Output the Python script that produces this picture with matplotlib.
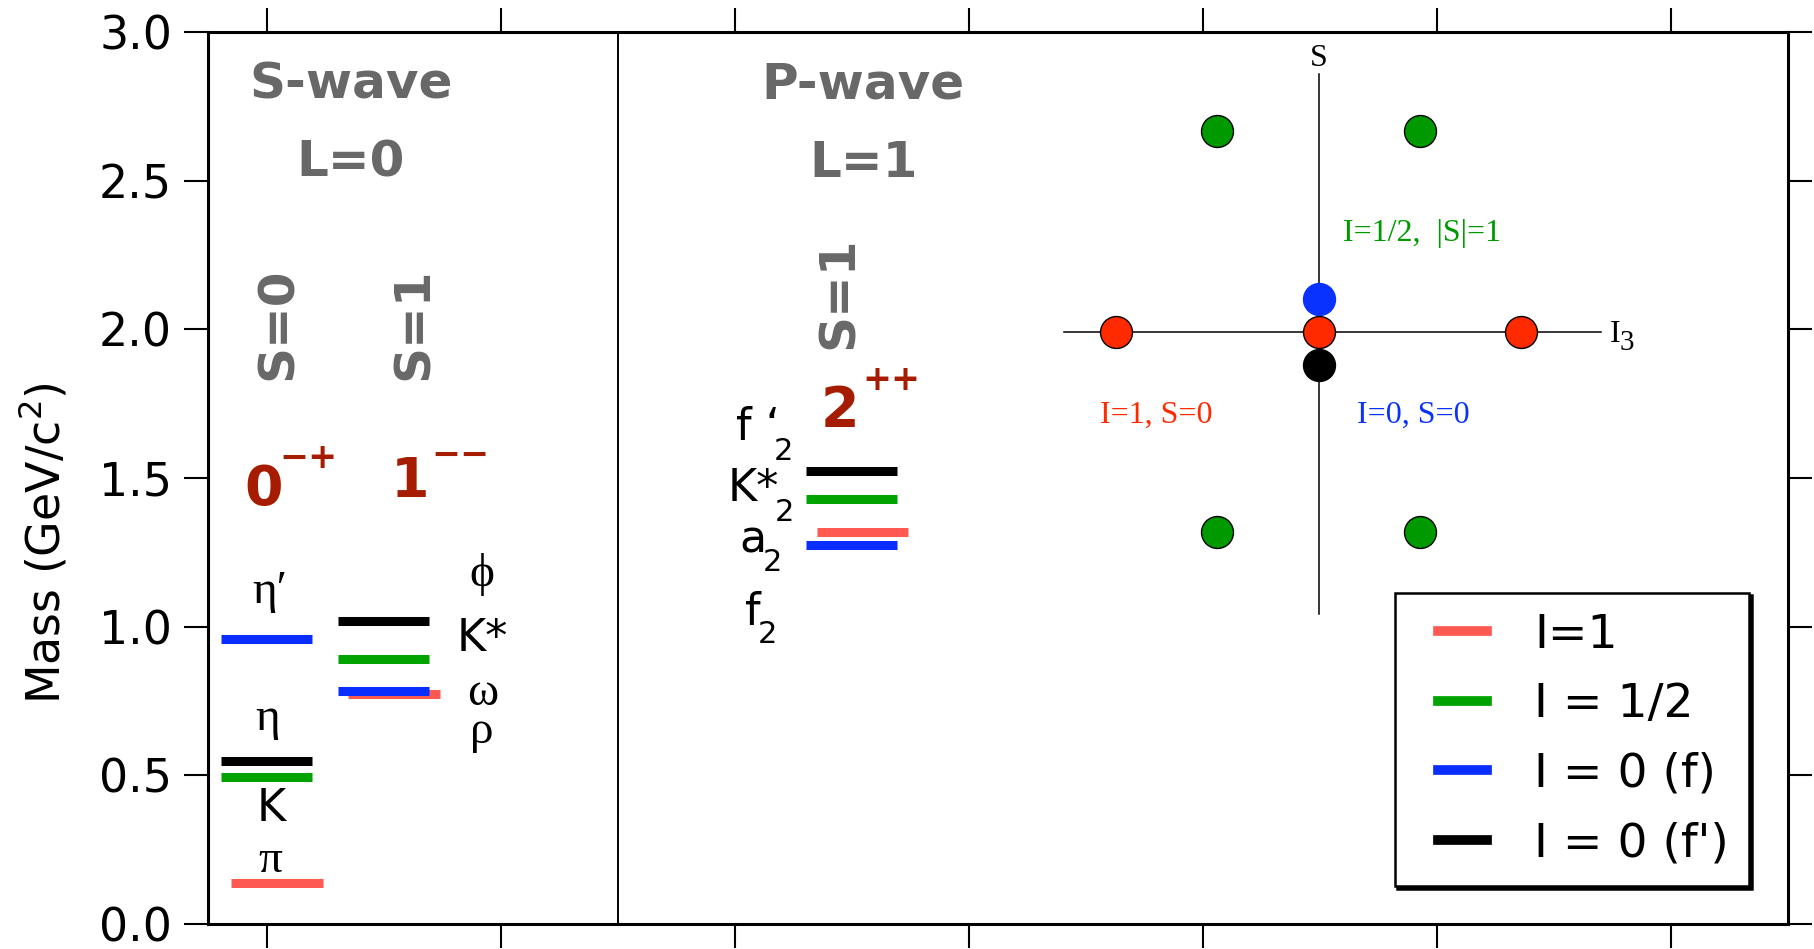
import matplotlib.pyplot as plt
from matplotlib.lines import Line2D
from matplotlib.legend_handler import HandlerLine2D

plt.rcParams['font.family'] = 'DejaVu Sans'
plt.rcParams['mathtext.fontset'] = 'dejavusans'

# isospin groups, same order everywhere below
iso_labels = ["I=1", "I = 1/2", "I = 0 (f)", "I = 0 (f')"]
iso_colors = ["#ff5a52", "#00a300", "#0a2dff", "#000000"]

# meson masses in GeV/c^2 (I=1, I=1/2, I=0 f, I=0 f')
ps_mass = [0.138, 0.495, 0.958, 0.548]    # pi, K, eta', eta
vec_mass = [0.775, 0.892, 0.783, 1.019]   # rho, K*, omega, phi
ten_mass = [1.318, 1.430, 1.275, 1.525]   # a2, K2*, f2, f2'

# weight diagram of the nonet (I3, S)
pion_i3 = [-1, 0, 1]
kaon_i3 = [-0.5, 0.5, -0.5, 0.5]
kaon_s = [1, 1, -1, -1]

GRAY = "#686868"
DARKRED = "#a61c00"
DOT_RED = "#ff2a00"
DOT_GREEN = "#009a00"
DOT_BLUE = "#0a32ff"

fig = plt.figure(figsize=(18.15, 9.49), dpi=100)
ax = fig.add_axes([208 / 1815, 25 / 949, 1580 / 1815, 892 / 949])
ax.set_xlim(-0.25, 6.5)
ax.set_ylim(0, 3)


def levels(xc, masses):
    for i, m in enumerate(masses):
        shift = 0.045 if i == 0 else 0.0
        ax.hlines(m, xc - 0.195 + shift, xc + 0.195 + shift,
                  color=iso_colors[i], lw=6.5, capstyle='butt', zorder=3)


levels(0.0, ps_mass)
levels(0.5, vec_mass)
levels(2.5, ten_mass)

ax.axvline(1.5, color='black', lw=1.4)

# headings
head = dict(color=GRAY, fontsize=36, fontweight='bold', ha='center', va='center')
ax.text(0.36, 2.823, "S-wave", **head)
ax.text(0.36, 2.56, "L=0", **head)
ax.text(2.548, 2.823, "P-wave", **head)
ax.text(2.552, 2.56, "L=1", **head)
rot = dict(color=GRAY, fontsize=36, fontweight='bold', ha='center',
           va='bottom', rotation=90)
ax.text(0.05, 1.83, "S=0", **rot)
ax.text(0.63, 1.83, "S=1", **rot)
ax.text(2.445, 1.934, "S=1", **rot)

# J^PC
big = dict(color=DARKRED, fontsize=40, fontweight='bold', ha='center', va='center')
sup = dict(color=DARKRED, fontsize=25, fontweight='bold', ha='center', va='center')
ax.text(-0.014, 1.46, "0", **big)
ax.text(0.178, 1.568, "\u2212+", **sup)
ax.text(0.612, 1.488, "1", **big)
ax.text(0.83, 1.578, "\u2212\u2212", **sup)
ax.text(2.448, 1.725, "2", **big)
ax.text(2.669, 1.83, "++", **sup)

# particle names
greek = dict(family='Liberation Serif', fontsize=34, ha='center', va='baseline')
latin = dict(fontsize=32, ha='center', va='baseline')
sub = dict(fontsize=22, ha='center', va='baseline')
ax.text(0.013, 1.079, "η\u2032", **greek)
ax.text(0.006, 0.653, "η", **greek)
ax.text(0.02, 0.347, "K", **latin)
ax.text(0.015, 0.176, "π", **greek)
ax.text(0.92, 1.136, "ϕ", **greek)
ax.text(0.924, 0.919, "K*", **latin)
ax.text(0.925, 0.737, "ω", **greek)
ax.text(0.92, 0.608, "ρ", **greek)

ax.text(2.10, 1.627, "f \u2018", **latin)
ax.text(2.21, 1.562, "2", **sub)
ax.text(2.08, 1.423, "K*", **latin)
ax.text(2.213, 1.356, "2", **sub)
ax.text(2.077, 1.248, "a", **latin)
ax.text(2.16, 1.188, "2", **sub)
ax.text(2.078, 1.007, "f", **latin)
ax.text(2.142, 0.946, "2", **sub)


# weight diagram
def wx(i3):
    return 4.495 + 0.865 * i3


def wy(s):
    return 1.9925 + 0.6735 * s


ax.plot([wx(-1.26), wx(1.393)], [wy(0), wy(0)], color='black', lw=1.1, zorder=2)
ax.plot([wx(0), wx(0)], [wy(-1.408), wy(1.284)], color='black', lw=1.1, zorder=2)

dot = dict(marker='o', markersize=23, markeredgewidth=1.0, linestyle='none', zorder=4)
ax.plot([wx(0)], [wy(0.165)], color=DOT_BLUE, markeredgecolor=DOT_BLUE, **dot)
ax.plot([wx(0)], [wy(-0.165)], color='black', markeredgecolor='black', **dot)
ax.plot([wx(v) for v in pion_i3], [wy(0)] * len(pion_i3), color=DOT_RED,
        markeredgecolor='black', **dot)
ax.plot([wx(v) for v in kaon_i3], [wy(v) for v in kaon_s], color=DOT_GREEN,
        markeredgecolor='black', **dot)

serif = dict(family='Liberation Serif', fontsize=23, ha='center', va='center')
ax.text(wx(0), 2.911, "S", color='black', **serif)
ax.text(5.763, 1.981, "I", color='black', **serif)
ax.text(5.81, 1.955, "3", color='black', family='Liberation Serif', fontsize=21,
        ha='center', va='center')
ax.text(4.935, 2.322, "I=1/2,  |S|=1", color=DOT_GREEN, **serif)
ax.text(3.80, 1.711, "I=1, S=0", color=DOT_RED, **serif)
ax.text(4.90, 1.711, "I=0, S=0", color=DOT_BLUE, **serif)

# axes styling
ax.set_xticks(range(7))
ax.set_yticks([0, 0.5, 1.0, 1.5, 2.0, 2.5, 3.0])
ax.set_yticklabels(["0.0", "0.5", "1.0", "1.5", "2.0", "2.5", "3.0"])
ax.tick_params(direction='out', length=17, width=1.5, top=True, right=True,
               labelbottom=False, labelsize=33, pad=9)
for sp in ax.spines.values():
    sp.set_linewidth(2.2)

fig.text(70 / 1815, 1 - 543 / 949, "Mass (GeV/c$^2$)", fontsize=33,
         rotation=90, ha='right', va='center')

handles = [Line2D([], [], color=c, lw=7) for c in iso_colors]
leg = ax.legend(handles, iso_labels, loc='lower left',
                bbox_to_anchor=(0.751, 0.0426), borderaxespad=0,
                fontsize=34, handlelength=1.54, handletextpad=1.0,
                labelspacing=0.52, borderpad=0.42, fancybox=False,
                framealpha=1, edgecolor='black',
                shadow={'color': 'black', 'alpha': 1},
                handler_map={Line2D: HandlerLine2D(xpad=0.51)})
leg.get_frame().set_linewidth(1.8)

fig.savefig("out.png", dpi=100)
